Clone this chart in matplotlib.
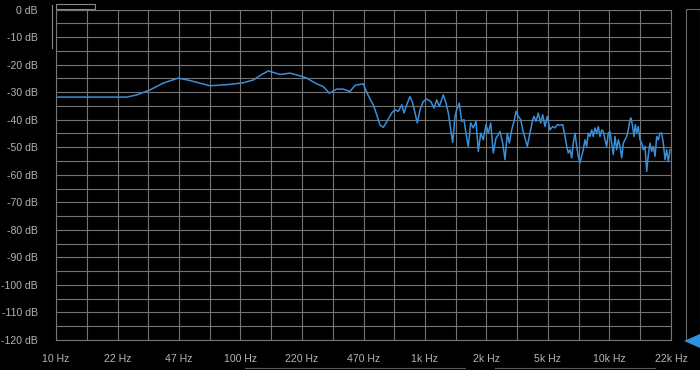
import numpy as np
import matplotlib
matplotlib.use("Agg")
import matplotlib.pyplot as plt
from matplotlib.patches import Rectangle, Polygon
from matplotlib.lines import Line2D

# data (Hz, dB)
freq_hz = [10, 24.2, 27.4, 32.3, 38.2, 46.0, 53.2, 68.3, 87.7, 103.6,
           117.3, 130.3, 141.5, 163.7, 185.5, 210.1, 228.5, 258.8, 281.1, 302.9,
           332.2, 360.8, 392.3, 417.5, 463.1, 478.9, 503.4, 524.6, 547.3, 570.3,
           594.3, 620.1, 660.0, 687.8, 716.7, 747.7, 769.5, 795.8, 829.3, 857.8,
           882.8, 908.6, 939.8, 979.0, 1021, 1074, 1119, 1157, 1196, 1257,
           1300, 1338, 1379, 1413, 1454, 1485, 1534, 1581, 1627, 1683,
           1717, 1769, 1827, 1890, 1945, 2004, 2070, 2141, 2203, 2270,
           2345, 2425, 2496, 2550, 2637, 2714, 2793, 2864, 2951, 3037,
           3114, 3204, 3302, 3385, 3483, 3585, 3707, 3834, 3897, 3995,
           4112, 4237, 4344, 4471, 4601, 4759, 4921, 5065, 5213, 5391,
           5576, 5739, 5862, 5980, 6107, 6238, 6364, 6501, 6640, 6774,
           6920, 7068, 7211, 7366, 7523, 7675, 7840, 8008, 8170, 8345,
           8524, 8697, 8883, 9073, 9257, 9455, 9656, 9851, 10062, 10278,
           10486, 10710, 10940, 11161, 11400, 11644, 11880, 12134, 12394, 12645,
           12916, 13077, 13357, 13577, 13800, 14043, 14327, 14633, 14946, 15249,
           15576, 15909, 16231, 16579, 16934, 17277, 17647, 18025, 18389, 18783,
           19185, 19573, 19992, 20420, 20834, 21280]
level_db = [-31.8, -31.8, -31.0, -29.2, -26.7, -24.9, -25.8, -27.7, -27.2, -26.6,
            -25.6, -23.6, -22.3, -23.6, -23.1, -24.1, -24.9, -27.0, -28.0, -30.4,
            -28.9, -28.9, -29.8, -27.5, -27.0, -29.5, -32.5, -34.6, -38.2, -42.0,
            -42.8, -40.8, -37.6, -36.4, -37.0, -34.6, -37.6, -34.6, -31.6, -34.0,
            -37.6, -41.2, -36.4, -33.4, -32.5, -33.4, -35.8, -32.8, -35.2, -31.0,
            -34.0, -37.6, -43.7, -48.3, -38.8, -36.4, -34.0, -40.6, -40.0, -46.7,
            -49.7, -41.2, -43.0, -40.6, -51.5, -44.9, -47.3, -41.8, -44.9, -41.2,
            -52.1, -46.7, -45.5, -44.3, -48.5, -54.5, -44.9, -48.5, -43.7, -40.6,
            -37.0, -38.8, -40.0, -43.7, -46.7, -49.7, -44.9, -40.0, -38.8, -40.6,
            -37.6, -41.2, -38.2, -42.5, -38.8, -43.7, -42.5, -43.0, -41.8, -42.0,
            -41.8, -46.1, -49.7, -52.1, -50.9, -53.9, -48.5, -44.9, -49.7, -53.3,
            -55.7, -53.3, -50.9, -47.3, -49.7, -44.9, -46.1, -43.7, -46.1, -43.0,
            -44.9, -42.5, -46.1, -43.7, -44.3, -47.3, -49.7, -44.9, -44.3, -48.5,
            -52.7, -46.1, -50.9, -47.3, -49.7, -53.9, -48.5, -47.3, -46.1, -43.7,
            -40.0, -39.4, -42.5, -46.1, -41.8, -44.9, -42.5, -47.3, -48.5, -50.9,
            -49.7, -58.8, -52.7, -48.5, -51.5, -49.7, -53.3, -46.1, -47.3, -44.9,
            -44.9, -48.5, -54.5, -50.9, -55.2, -50.9]

tick_labels = ["10 Hz", "22 Hz", "47 Hz", "100 Hz", "220 Hz", "470 Hz",
               "1k Hz", "2k Hz", "5k Hz", "10k Hz", "22k Hz"]
db_ticks = list(range(0, -130, -10))

grid_col = "#747474"
text_col = "#b4b4b4"
plt.rcParams["font.family"] = ["Liberation Sans", "DejaVu Sans"]

fig = plt.figure(figsize=(7, 3.7), dpi=100, facecolor="black")
ax = fig.add_axes([56 / 700, 1 - 340 / 370, 615 / 700, 330.5 / 370])
ax.set_facecolor("black")

ax.plot(freq_hz, level_db, color="#3a8ed8", lw=1.1)

fmax = 10 * 10 ** (10 / 3)
ax.set_xscale("log")
ax.set_xlim(10, fmax)
ax.set_ylim(-120, 0)

major = [10 * 10 ** (k / 3) for k in range(11)]
minor = [10 * 10 ** (k / 6) for k in range(1, 21, 2)]
ax.set_xticks(major)
ax.set_xticklabels(tick_labels)
ax.set_xticks(minor, minor=True)
ax.set_xticklabels([], minor=True)
ax.set_yticks(db_ticks)
ax.set_yticklabels([f"{v} dB" for v in db_ticks])
ax.set_yticks(range(-115, 0, 10), minor=True)

ax.grid(True, which="both", color=grid_col, lw=0.8)
ax.tick_params(which="both", length=0, colors=text_col, labelsize=7.6)
ax.tick_params(axis="x", pad=10)
ax.tick_params(axis="y", pad=13)
for s in ax.spines.values():
    s.set_color(grid_col)
    s.set_linewidth(0.8)

# ui bits around the plot
def px(x, y):
    return x / 700, 1 - y / 370

ui = "#8a8a8a"
x0, y0 = px(56, 9)
x1, y1 = px(95, 4)
fig.add_artist(Rectangle((x0, y0), x1 - x0, y1 - y0, transform=fig.transFigure,
                         fill=False, ec=ui, lw=0.8))
fig.add_artist(Line2D([52 / 700, 52 / 700], [1 - 5 / 370, 1 - 48 / 370],
                      transform=fig.transFigure, color=ui, lw=0.8))
a, b = px(686, 9)
c, d = px(700, 340)
fig.add_artist(Rectangle((a, d), c - a, b - d, transform=fig.transFigure,
                         fill=False, ec="#6a6a6a", lw=0.8))
fig.add_artist(Polygon([px(684, 341), px(700, 334), px(700, 348)], closed=True,
                       transform=fig.transFigure, fc="#2f8fe0", ec="none"))
for xa, xb in [(245, 465), (495, 655)]:
    fig.add_artist(Line2D([xa / 700, xb / 700], [1 - 368 / 370] * 2,
                          transform=fig.transFigure, color="#5a5a5a", lw=0.8))

fig.savefig("out.png", dpi=100, facecolor="black")
